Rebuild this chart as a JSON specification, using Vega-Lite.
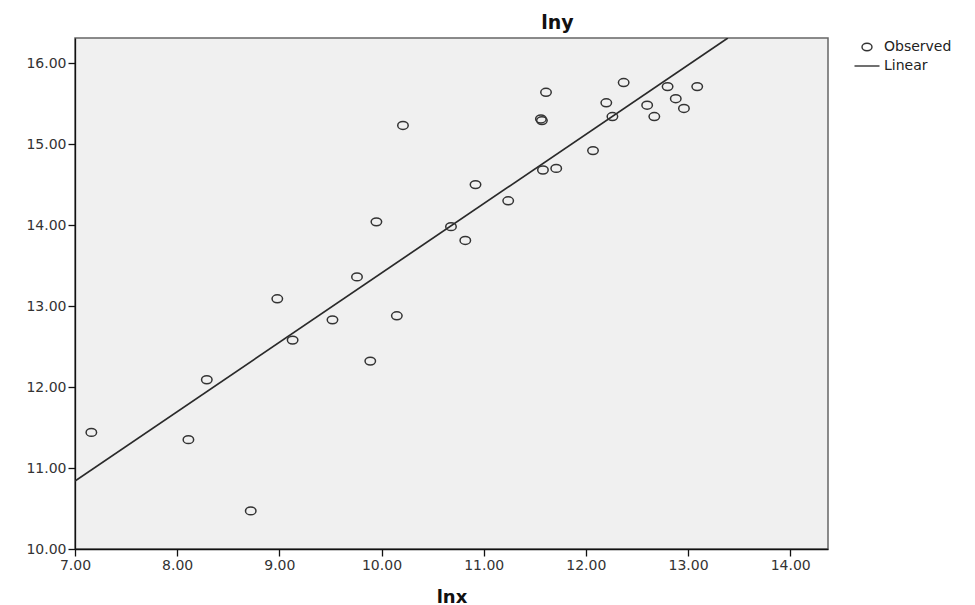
{
  "$schema": "https://vega.github.io/schema/vega-lite/v6.json",
  "width": 753,
  "height": 511,
  "autosize": {"type": "none"},
  "padding": {"left": 75, "top": 38, "right": 147, "bottom": 56},
  "background": "white",
  "title": {
    "text": "lny",
    "font": "DejaVu Sans",
    "fontSize": 19,
    "fontWeight": "bold",
    "color": "#111",
    "anchor": "middle",
    "dx": 106,
    "offset": 5
  },
  "config": {
    "view": {"fill": "#f0f0f0", "stroke": "#666", "strokeWidth": 1.5},
    "axis": {
      "grid": false,
      "labelFlush": false,
      "domainColor": "#111",
      "domainWidth": 1.3,
      "tickColor": "#111",
      "tickWidth": 1.3,
      "tickSize": 7,
      "labelFont": "DejaVu Sans",
      "labelFontSize": 14,
      "labelColor": "#333",
      "labelPadding": 2,
      "titleFont": "DejaVu Sans",
      "titleFontSize": 18,
      "titleFontWeight": "bold",
      "titleColor": "#111"
    },
    "legend": {
      "labelFont": "DejaVu Sans",
      "labelFontSize": 14,
      "labelColor": "#222"
    }
  },
  "datasets": {
    "observed": [
      {"lnx": 7.16, "lny": 11.44, "series": "Observed"},
      {"lnx": 8.11, "lny": 11.35, "series": "Observed"},
      {"lnx": 8.29, "lny": 12.09, "series": "Observed"},
      {"lnx": 8.72, "lny": 10.47, "series": "Observed"},
      {"lnx": 8.98, "lny": 13.09, "series": "Observed"},
      {"lnx": 9.13, "lny": 12.58, "series": "Observed"},
      {"lnx": 9.52, "lny": 12.83, "series": "Observed"},
      {"lnx": 9.76, "lny": 13.36, "series": "Observed"},
      {"lnx": 9.89, "lny": 12.32, "series": "Observed"},
      {"lnx": 9.95, "lny": 14.04, "series": "Observed"},
      {"lnx": 10.15, "lny": 12.88, "series": "Observed"},
      {"lnx": 10.21, "lny": 15.23, "series": "Observed"},
      {"lnx": 10.68, "lny": 13.98, "series": "Observed"},
      {"lnx": 10.82, "lny": 13.81, "series": "Observed"},
      {"lnx": 10.92, "lny": 14.50, "series": "Observed"},
      {"lnx": 11.24, "lny": 14.30, "series": "Observed"},
      {"lnx": 11.56, "lny": 15.31, "series": "Observed"},
      {"lnx": 11.57, "lny": 15.29, "series": "Observed"},
      {"lnx": 11.58, "lny": 14.68, "series": "Observed"},
      {"lnx": 11.61, "lny": 15.64, "series": "Observed"},
      {"lnx": 11.71, "lny": 14.70, "series": "Observed"},
      {"lnx": 12.07, "lny": 14.92, "series": "Observed"},
      {"lnx": 12.20, "lny": 15.51, "series": "Observed"},
      {"lnx": 12.26, "lny": 15.34, "series": "Observed"},
      {"lnx": 12.37, "lny": 15.76, "series": "Observed"},
      {"lnx": 12.60, "lny": 15.48, "series": "Observed"},
      {"lnx": 12.67, "lny": 15.34, "series": "Observed"},
      {"lnx": 12.80, "lny": 15.71, "series": "Observed"},
      {"lnx": 12.88, "lny": 15.56, "series": "Observed"},
      {"lnx": 12.96, "lny": 15.44, "series": "Observed"},
      {"lnx": 13.09, "lny": 15.71, "series": "Observed"}
    ],
    "fit": [
      {"lnx": 7.0, "lny": 10.84, "series": "Linear"},
      {"lnx": 13.39, "lny": 16.31, "series": "Linear"}
    ]
  },
  "layer": [
    {
      "data": {"name": "fit"},
      "mark": {"type": "line", "color": "#2a2a2a", "strokeWidth": 1.7, "clip": true},
      "encoding": {
        "x": {"field": "lnx", "type": "quantitative", "scale": {"domain": [7, 14.37], "nice": false, "zero": false}},
        "y": {"field": "lny", "type": "quantitative", "scale": {"domain": [10, 16.31], "nice": false, "zero": false}}
      }
    },
    {
      "data": {"name": "observed"},
      "mark": {"type": "point", "filled": false, "color": "#333", "strokeWidth": 1.5, "size": 110, "opacity": 1},
      "encoding": {
        "x": {
          "field": "lnx", "type": "quantitative",
          "scale": {"domain": [7, 14.37], "nice": false, "zero": false},
          "axis": {"values": [7, 8, 9, 10, 11, 12, 13, 14], "format": ".2f", "title": "lnx", "titlePadding": 16}
        },
        "y": {
          "field": "lny", "type": "quantitative",
          "scale": {"domain": [10, 16.31], "nice": false, "zero": false},
          "axis": {"values": [10, 11, 12, 13, 14, 15, 16], "format": ".2f", "title": null}
        },
        "shape": {
          "field": "series", "type": "nominal",
          "scale": {"domain": ["Observed", "Linear"], "range": ["M-1,0A1,0.75 0 1,1 1,0A1,0.75 0 1,1 -1,0Z", "M-2.5,0H2.5"]},
          "legend": {
            "title": null,
            "orient": "right",
            "offset": 30,
            "padding": 2,
            "symbolSize": 100,
            "symbolStrokeColor": "#333",
            "symbolFillColor": "transparent",
            "symbolStrokeWidth": 1.4,
            "labelOffset": 10,
            "rowPadding": 5
          }
        }
      }
    }
  ]
}
